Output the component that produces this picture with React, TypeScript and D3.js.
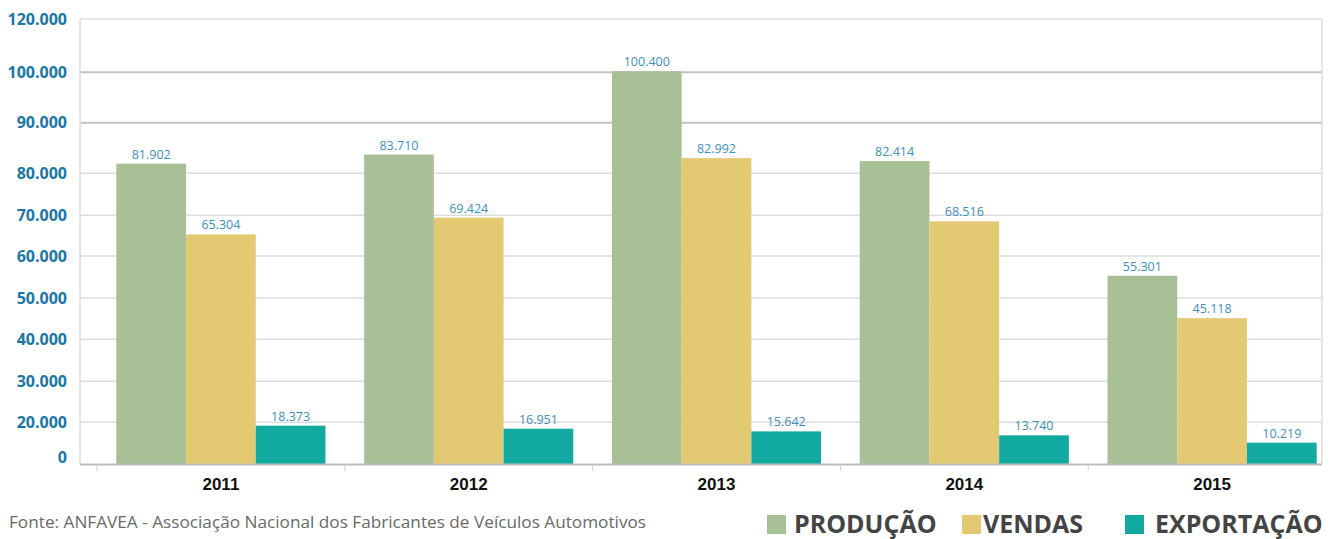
import React from "react";
import * as d3 from "d3";

const years = ["2011", "2012", "2013", "2014", "2015"];
const producao = [81902, 83710, 100400, 82414, 55301];
const vendas = [65304, 69424, 82992, 68516, 45118];
const exportacao = [18373, 16951, 15642, 13740, 10219];
const seriesNames = ["PRODUÇÃO", "VENDAS", "EXPORTAÇÃO"];
const seriesColors = ["#a8c096", "#e2c972", "#12aaa0"];
const yTicks = [0, 20000, 30000, 40000, 50000, 60000, 70000, 80000, 90000, 100000, 120000];
const yTickLabels = ["0", "20.000", "30.000", "40.000", "50.000", "60.000", "70.000", "80.000", "90.000", "100.000", "120.000"];
const darkGridTicks = [90000, 100000];
const sourceText = "Fonte: ANFAVEA - Associação Nacional dos Fabricantes de Veículos Automotivos";

const W = 1334;
const H = 539;
const plotLeft = 80;
const plotRight = 1322;
const baseY = 464;

export default function App() {
  // piecewise axis as printed in the original (uneven tick spacing)
  const y = d3
    .scaleLinear()
    .domain(yTicks)
    .range([464, 422.3, 381.3, 339.3, 298, 256, 215.3, 173.3, 122.7, 72.3, 19]);

  const x = d3
    .scaleBand<string>()
    .domain(years)
    .range([97, 1336])
    .paddingInner(0.156)
    .paddingOuter(0.078);

  const inner = d3
    .scaleBand<number>()
    .domain([0, 1, 2])
    .range([0, x.bandwidth()]);

  const data = [producao, vendas, exportacao];
  const gap = x.step() * 0.156;
  const fmt = (v: number) => d3.format(",")(v).replace(/,/g, ".");

  const tickXs = years.map((yr) => (x(yr) as number) - gap / 2);

  const legendItems = [
    { sq: 767, tx: 794 },
    { sq: 962, tx: 983 },
    { sq: 1125, tx: 1155 },
  ];

  return (
    <svg
      width={W}
      height={H}
      style={{ position: "absolute", left: 0, top: 0, display: "block", background: "#fff" }}
    >
      {/* grid */}
      {yTicks.map((t) =>
        t === 0 ? null : (
          <line
            key={"g" + t}
            x1={plotLeft}
            x2={plotRight}
            y1={y(t)}
            y2={y(t)}
            stroke={darkGridTicks.includes(t) ? "#c2c2c2" : "#dedede"}
            strokeWidth={darkGridTicks.includes(t) ? 2 : 1.5}
          />
        )
      )}
      <line x1={plotLeft} x2={plotLeft} y1={y(120000)} y2={baseY} stroke="#dcdcdc" strokeWidth={1.5} />
      <line x1={plotRight} x2={plotRight} y1={y(120000)} y2={baseY} stroke="#dcdcdc" strokeWidth={1.5} />

      {/* y labels */}
      {yTicks.map((t, i) => (
        <text
          key={"yl" + t}
          x={67}
          y={Math.min(y(t), baseY - 7)}
          dy="0.36em"
          textAnchor="end"
          fontFamily="'Open Sans', sans-serif"
          fontWeight={700}
          fontSize={16}
          fill="#1a76a6"
        >
          {yTickLabels[i]}
        </text>
      ))}

      {/* bars */}
      {years.map((yr, gi) => (
        <g key={yr} transform={`translate(${x(yr)},0)`}>
          {data.map((s, si) => (
            <rect
              key={si}
              x={inner(si)}
              y={y(s[gi])}
              width={inner.bandwidth()}
              height={baseY - y(s[gi])}
              fill={seriesColors[si]}
            />
          ))}
          {data.map((s, si) => (
            <text
              key={"t" + si}
              x={(inner(si) as number) + inner.bandwidth() / 2}
              y={y(s[gi]) - 5}
              textAnchor="middle"
              fontFamily="'Open Sans', sans-serif"
              fontSize={12.5}
              fill="#3d8fc0"
            >
              {fmt(s[gi])}
            </text>
          ))}
        </g>
      ))}

      {/* x axis */}
      <line x1={plotLeft} x2={plotRight} y1={baseY + 0.5} y2={baseY + 0.5} stroke="#bdbdbd" strokeWidth={2} />
      {tickXs.map((tx, i) => (
        <line key={"tk" + i} x1={tx} x2={tx} y1={baseY + 2} y2={baseY + 7} stroke="#d0d0d0" strokeWidth={1} />
      ))}
      {years.map((yr) => (
        <text
          key={"xl" + yr}
          x={(x(yr) as number) + x.bandwidth() / 2}
          y={490}
          textAnchor="middle"
          fontFamily="'Liberation Sans', Arial, sans-serif"
          fontWeight={700}
          fontSize={17}
          fill="#111"
        >
          {yr}
        </text>
      ))}

      {/* source */}
      <text x={9} y={528} fontFamily="'Open Sans', sans-serif" fontSize={17.2} fill="#6a6a6a">
        {sourceText}
      </text>

      {/* legend */}
      {seriesNames.map((n, i) => (
        <g key={n}>
          <rect x={legendItems[i].sq} y={515} width={19} height={19} fill={seriesColors[i]} />
          <text
            x={legendItems[i].tx}
            y={533}
            fontFamily="'Open Sans', sans-serif"
            fontWeight={700}
            fontSize={25}
            fill="#444"
          >
            {n}
          </text>
        </g>
      ))}
    </svg>
  );
}
